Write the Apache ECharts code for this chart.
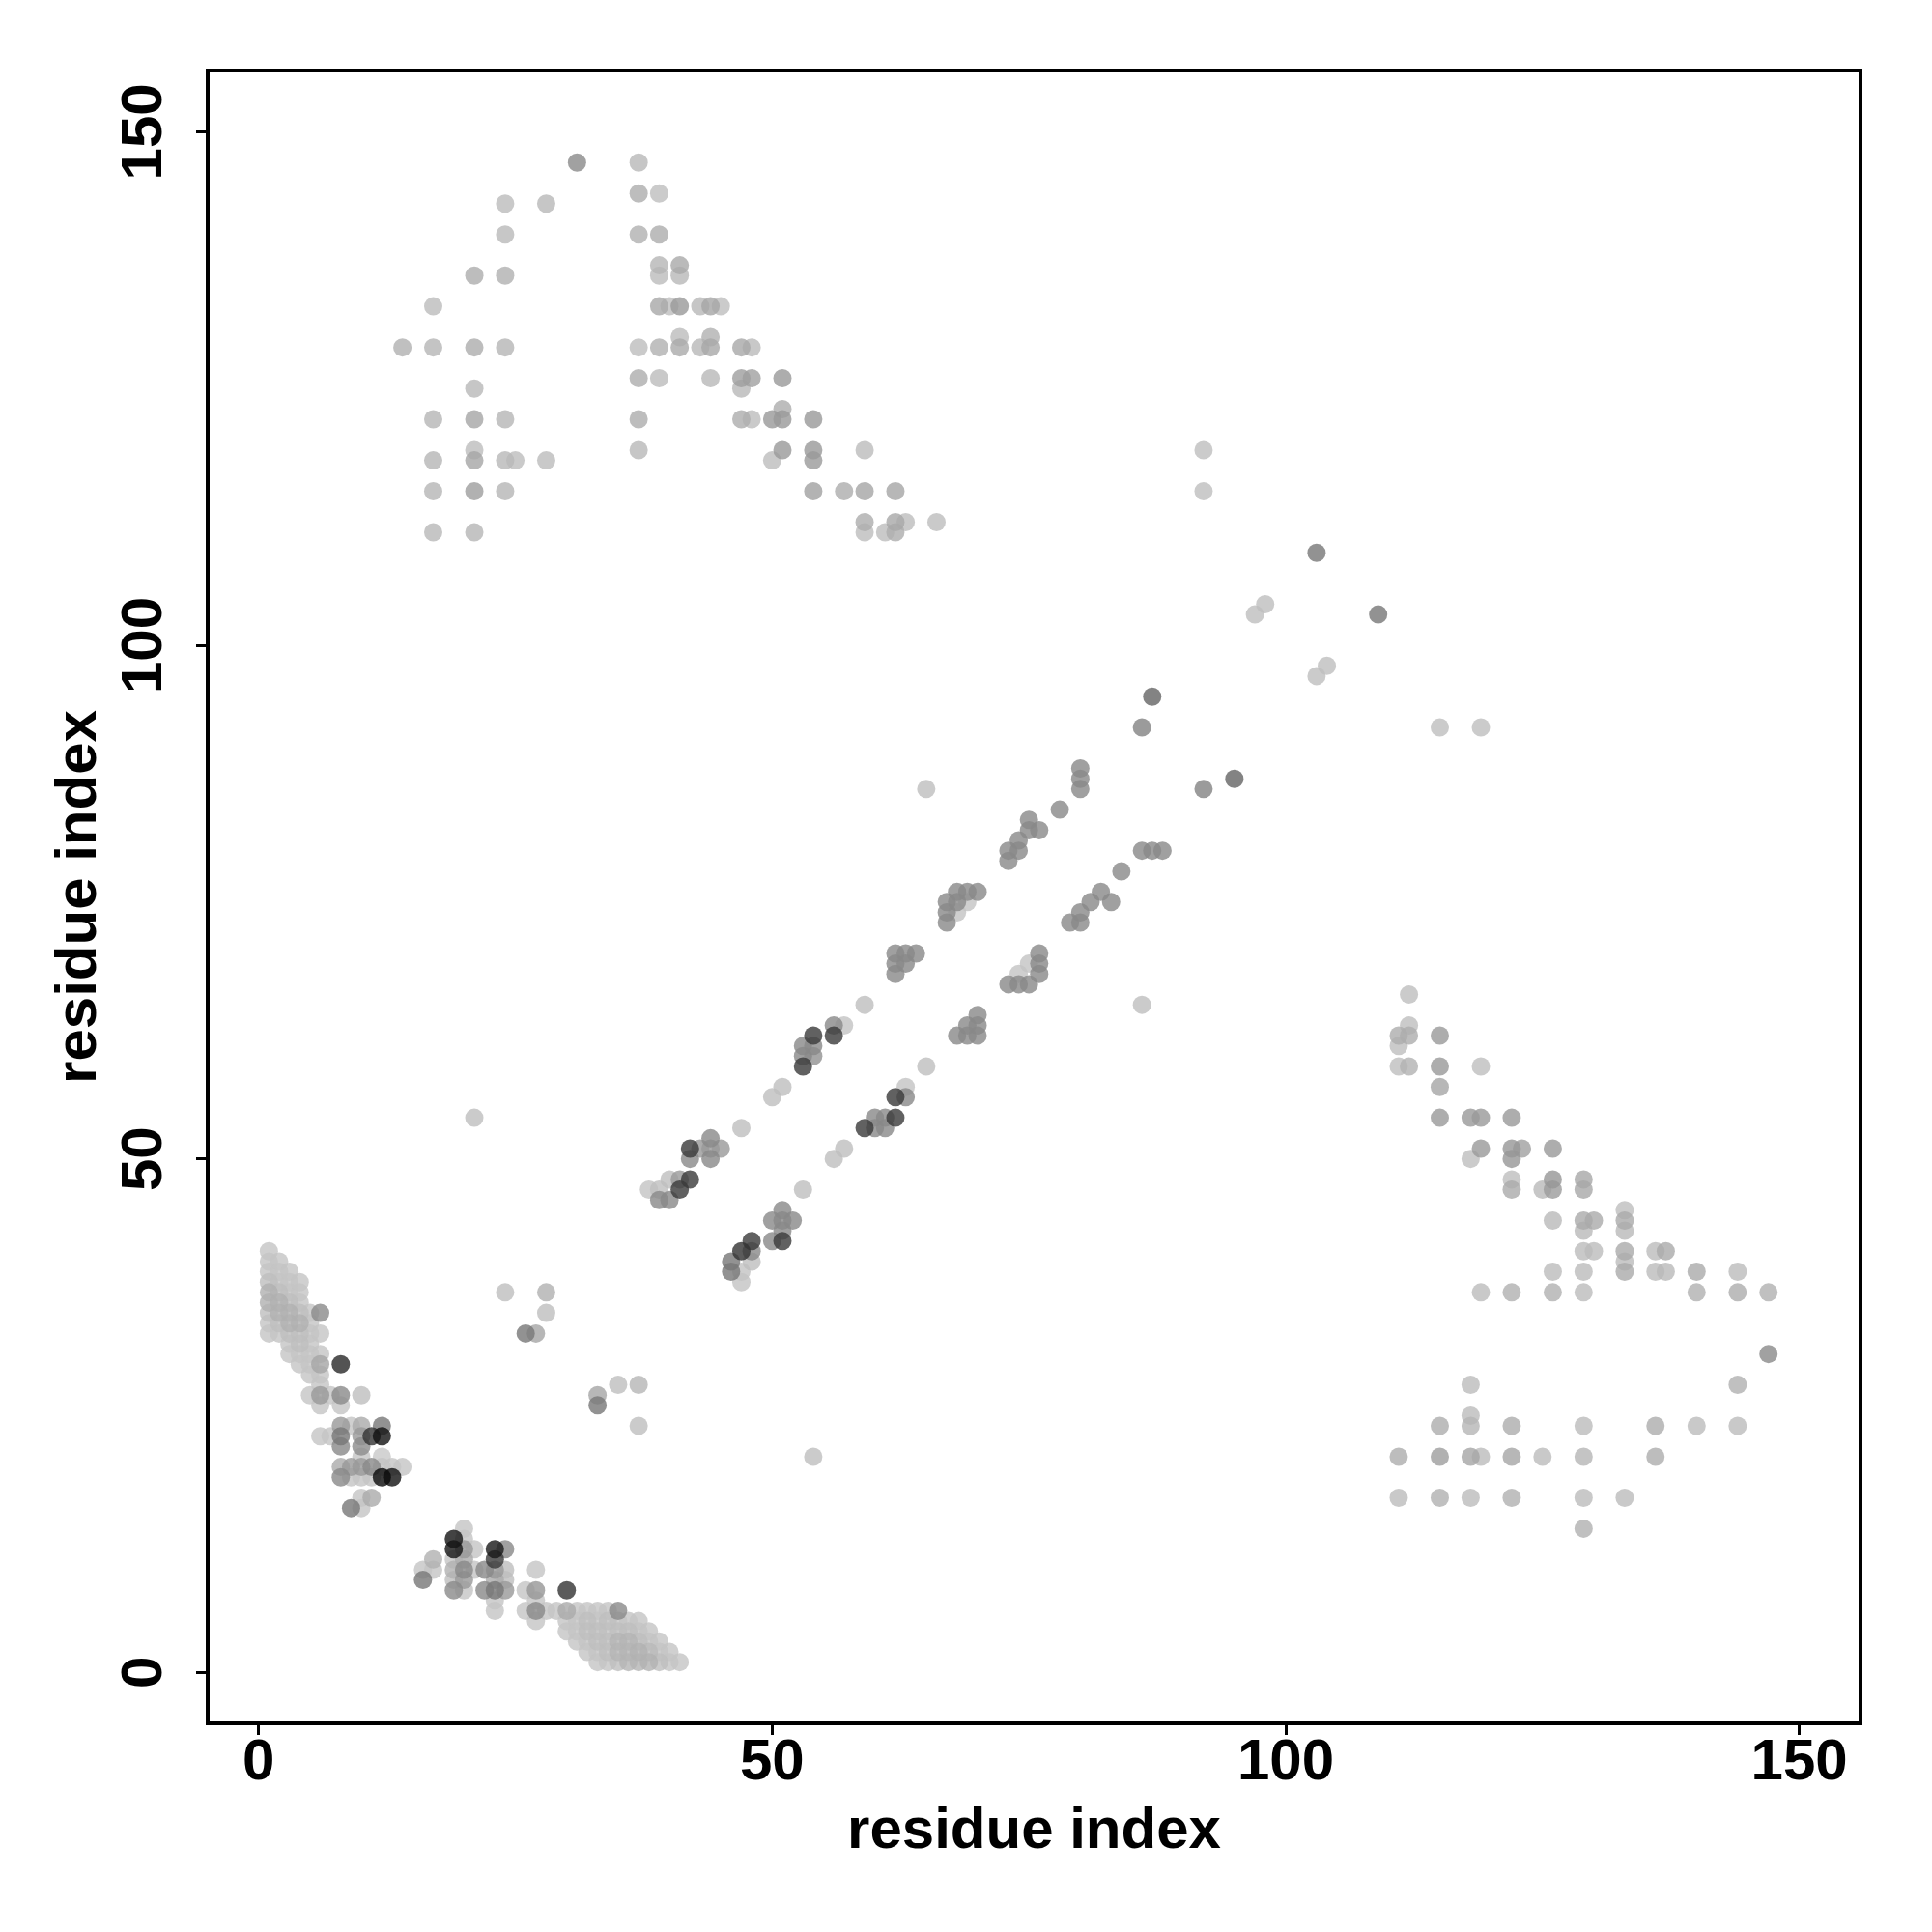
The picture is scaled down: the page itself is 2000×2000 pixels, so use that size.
<!DOCTYPE html>
<html><head><meta charset="utf-8">
<script src="https://cdn.jsdelivr.net/npm/echarts@6/dist/echarts.min.js"></script>
<style>html,body{margin:0;padding:0;background:#fff}#c{width:2000px;height:2000px}</style>
</head><body><div id="c"></div>
<script>
// tick labels on both axes
const tickValues = [0, 50, 100, 150];
const axisTitle = 'residue index';

// contacts: [residue i, residue j, grey level 0-255]
const upperLeft = [
[31,147,138],[37,147,184],[37,144,173],[39,144,190],[24,143,188],[28,143,184],
[24,140,185],[37,140,176],[39,140,173],[39,137,181],[39,136,188],[41,137,169],[41,136,184],
[21,136,173],[24,136,176],[17,133,188],[39,133,168],[40,133,190],[41,133,153],[43,133,184],[44,133,165],[45,133,190],
[14,129,176],[17,129,181],[21,129,172],[24,129,181],[37,129,189],[39,129,176],[41,130,188],[41,129,170],[43,129,184],
[44,130,176],[44,129,168],[47,129,168],[48,129,186],
[21,125,184],[37,126,173],[39,126,188],[44,126,184],[47,126,158],[48,126,160],[51,126,153],[47,125,184],
[17,122,181],[21,122,165],[24,122,181],[37,122,173],[47,122,173],[48,122,189],[50,122,153],[51,122,153],[51,123,173],[54,122,153],
[21,119,189],[21,118,165],[17,118,181],[24,118,184],[25,118,189],[28,118,188],[37,119,184],
[51,119,153],[50,118,189],[54,119,153],[54,118,154],[59,119,188],
[17,115,181],[21,115,158],[24,115,181],[54,115,160],[57,115,173],[59,115,165],[62,115,165],
[17,111,184],[21,111,181],[59,112,173],[59,111,189],[61,111,189],[62,112,168],[62,111,173],[63,112,189],[66,112,189]
];
const middleSingles = [
[21,54,190],[92,119,190],[92,115,190],[103,109,119],[97,103,190],[98,104,190],[109,103,119],
[103,97,190],[104,98,190],[87,95,100],[86,92,130],[115,92,190],[119,92,190],[95,87,100],[92,86,130],
[65,86,190],[86,65,190]
];
const upperBand = [
[38,47,195],[39,47,190],[39,46,136],[40,46,136],[40,48,190],[41,48,153],[41,47,58],[42,48,58],
[42,51,58],[42,50,136],[43,51,153],[44,52,136],[44,51,153],[44,50,136],[45,51,153],
[47,53,190],[50,56,190],[51,57,190],
[53,61,136],[53,60,136],[53,59,58],[54,62,58],[54,61,136],[54,60,145],
[56,63,136],[56,62,58],[57,63,195],[59,65,190],
[62,68,136],[62,69,136],[62,70,136],[63,70,136],[64,70,136],[63,69,136],
[67,73,136],[67,74,136],[67,75,136],[68,75,136],[68,76,136],[69,76,136],[70,76,136],[68,74,195],[69,75,195],
[73,79,136],[73,80,136],[74,80,136],[74,81,136],[75,82,136],[76,82,136],[75,83,136],
[78,84,136],[80,86,136],[80,87,136],[80,88,136]
];
const lowerBand = [
[47,38,195],[46,40,119],[46,39,119],[47,41,50],[48,42,58],[48,41,136],[48,40,190],[47,39,195],
[50,42,136],[51,42,58],[50,44,136],[51,45,136],[51,44,136],[52,44,136],[51,43,136],
[53,47,190],[56,50,190],[57,51,190],
[59,53,58],[60,54,136],[61,54,136],[61,53,136],[62,54,58],[60,53,136],
[62,56,58],[63,56,136],[63,57,195],[65,59,190],
[68,62,136],[69,62,136],[69,63,136],[70,62,136],[70,64,136],[70,63,136],
[73,67,136],[74,67,136],[75,67,136],[74,68,195],[75,69,195],[76,68,136],[76,69,136],[76,70,136],
[79,73,136],[80,73,136],[80,74,136],[81,75,136],[82,76,136],[83,75,136],
[84,78,136],[86,80,136],[87,80,136],[88,80,136]
];
const rightCluster = [
[112,66,190],[112,63,190],[111,62,172],[112,62,172],[111,61,190],
[115,62,153],[111,59,190],[112,59,178],[115,59,153],[119,59,190],[115,57,165],
[115,54,153],[118,54,153],[119,54,153],[122,54,153],
[119,51,153],[118,50,190],[122,51,150],[122,50,150],[123,51,160],[126,51,153],
[122,48,190],[122,47,170],[125,47,185],[126,48,150],[126,47,155],[129,48,168],[129,47,168],
[133,45,190],[133,44,170],[133,43,185],[126,44,185],[129,44,170],[130,44,170],[129,43,185],
[129,41,188],[130,41,188],[133,41,170],[133,40,188],[133,39,170],[136,41,188],[137,41,170],[136,39,188],[137,39,185],
[126,39,188],[129,39,188],[140,39,170],[144,39,188],
[119,37,188],[122,37,176],[126,37,176],[129,37,188],[140,37,176],[144,37,172],[147,37,176],
[147,31,138],[118,28,188],[144,28,176],
[118,25,188],[115,24,172],[118,24,181],[122,24,172],[129,24,188],[136,24,172],[140,24,188],[144,24,188],
[111,21,172],[115,21,158],[118,21,165],[119,21,188],[122,21,165],[125,21,188],[129,21,181],[136,21,172],
[111,17,188],[115,17,176],[118,17,188],[122,17,176],[129,17,188],[133,17,188],[129,14,176]
];
const lowerSingles = [
[24,37,190],[28,37,176],[28,35,190],[26,33,119],[27,33,165],
[33,27,165],[33,26,119],[35,28,190],[37,28,181],[37,24,190],[54,21,190]
];
const helixBlob = [
[1,33,196],[1,34,196],[1,35,190],[1,36,176],[1,37,176],[1,38,190],[1,39,196],[1,40,196],[1,41,196],
[2,33,196],[2,34,190],[2,35,176],[2,36,176],[2,37,190],[2,38,196],[2,39,196],[2,40,196],
[3,31,196],[3,32,196],[3,33,190],[3,34,176],[3,35,176],[3,36,190],[3,37,196],[3,38,196],[3,39,196],
[4,30,196],[4,31,196],[4,32,190],[4,33,190],[4,34,176],[4,35,190],[4,36,196],[4,37,196],[4,38,196],
[5,29,196],[5,30,196],[5,31,196],[5,32,196],[5,33,196],[5,34,196],[5,35,196],
[6,35,138],[6,33,196],[6,31,196],[6,30,165],[6,29,196],[6,28,196],[6,27,153],[6,26,196],
[5,27,196],[7,27,196],[8,30,40],[8,27,138],[8,26,196],[10,27,190],
[6,23,196],[7,23,196],[8,24,153],[8,23,119],[8,22,136],[9,24,196],[10,24,170],[10,23,153],[10,22,140],
[11,23,50],[12,24,119],[12,23,17],
[8,20,170],[8,19,136],[9,20,153],[9,19,196],[10,20,153],[10,19,196],[11,20,136],[11,19,196],
[12,21,200],[12,20,196],[12,19,10],[13,20,196],[13,19,17],[14,20,196],[10,21,196],
[11,17,170],[10,17,196],[9,16,119],[10,16,196]
];
const strandBlob = [
[16,10,196],[17,11,176],[17,10,196],[16,9,119],
[19,13,20],[19,12,20],[19,11,196],[19,10,176],[19,9,190],[19,8,138],
[20,14,196],[20,13,196],[20,12,153],[20,11,170],[20,10,136],[20,9,153],[20,8,196],
[21,12,196],[21,10,196],[22,10,136],[22,8,136],
[23,12,25],[23,11,58],[23,10,153],[23,9,170],[23,8,119],[23,7,196],[23,6,196],
[24,12,136],[24,10,190],[24,9,190],[24,8,153],
[26,8,196],[26,6,196],[27,10,196],[27,8,150],[27,7,196],[27,6,136],[27,5,196],
[28,6,196],[29,6,196],[30,8,50],[30,6,170],[30,4,196],[31,6,196],
[32,6,196],[33,6,196],[34,6,196],[35,6,138],
[30,5,196],[31,5,196],[32,5,190],[33,5,196],[34,5,190],[35,5,196],[36,5,196],[37,5,196],
[31,4,196],[32,4,190],[33,4,190],[34,4,196],[35,4,190],[36,4,190],[37,4,196],[38,4,196],
[31,3,196],[32,3,196],[33,3,190],[34,3,190],[35,3,180],[36,3,180],[37,3,190],[38,3,196],[39,3,196],
[32,2,196],[33,2,196],[34,2,190],[35,2,180],[36,2,180],[37,2,178],[38,2,185],[39,2,196],[40,2,196],
[33,1,196],[34,1,196],[35,1,190],[36,1,180],[37,1,180],[38,1,178],[39,1,190],[40,1,196],[41,1,196]
];

const groups = [upperLeft, middleSingles, upperBand, lowerBand, rightCluster, lowerSingles, helixBlob, strandBlob];
const all = [];
groups.forEach(g => g.forEach(p => all.push(p)));
all.sort((a, b) => b[2] - a[2]); // lighter first, darker on top
const data = all.map(p => ({
  value: [p[0], p[1]],
  itemStyle: { color: 'rgb(' + p[2] + ',' + p[2] + ',' + p[2] + ')' }
}));

const font = '"Liberation Sans", Arial, Helvetica, sans-serif';
function axis(isY) {
  return {
    type: 'value', min: -4.96, max: 155.96,
    name: axisTitle, nameLocation: 'middle', nameGap: isY ? 101 : 82,
    nameTextStyle: { fontSize: 60, fontWeight: 'bold', color: '#000', fontFamily: font },
    axisLine: { show: false, onZero: false },
    splitLine: { show: false },
    axisTick: { show: true, inside: false, length: 12, customValues: tickValues,
      lineStyle: { color: '#000', width: 3 } },
    axisLabel: { show: true, customValues: tickValues, rotate: isY ? 90 : 0, margin: isY ? 35 : 11,
      fontSize: 60, fontWeight: 'bold', color: '#000', fontFamily: font }
  };
}
const chart = echarts.init(document.getElementById('c'), null, { renderer: 'canvas' });
chart.setOption({
  animation: false,
  backgroundColor: '#fff',
  grid: { left: 215, right: 74, top: 73, bottom: 216, show: true, borderColor: '#000', borderWidth: 4, backgroundColor: 'transparent' },
  xAxis: axis(false),
  yAxis: axis(true),
  series: [{ type: 'scatter', symbol: 'circle', symbolSize: 19, data: data, z: 3 }]
});
</script></body></html>
